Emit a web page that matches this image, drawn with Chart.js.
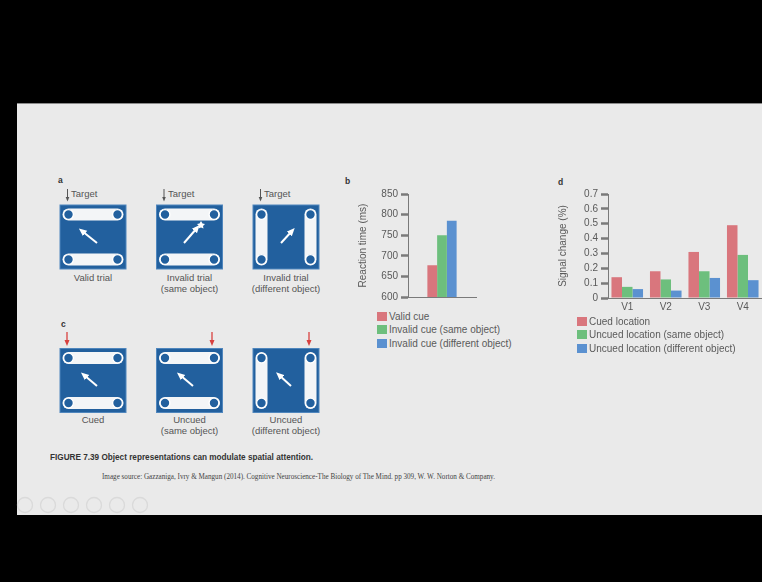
<!DOCTYPE html>
<html>
<head>
<meta charset="utf-8">
<script src="https://cdn.jsdelivr.net/npm/chart.js@4.4.1/dist/chart.umd.min.js"></script>
<style>
  html, body { margin: 0; padding: 0; background: #000; }
  body { width: 762px; height: 582px; position: relative; overflow: hidden; font-family: "Liberation Sans", Arial, sans-serif; }
  #slide { position: absolute; left: 17px; top: 103px; width: 745px; height: 411px; background: #eaeaea; border-top: 1px solid #8a8a8a; }
  .t { position: absolute; white-space: nowrap; color: #555; font-size: 9.5px; line-height: 11px; }
  .c { transform: translateX(-50%); text-align: center; }
  .p { position: absolute; font-weight: bold; font-size: 8.5px; color: #333; }
  .legend { position: absolute; font-size: 10px; color: #5a5a5a; }
  .legend div { height: 13.4px; line-height: 13.4px; white-space: nowrap; }
  .legend span { display: inline-block; width: 10px; height: 9px; margin-right: 2px; vertical-align: -1px; }
  .fit { position: absolute; white-space: nowrap; transform-origin: left center; }
  canvas { position: absolute; }
</style>
</head>
<body>
<div id="slide"></div>

<svg width="762" height="582" style="position:absolute;left:0;top:0">
  <defs>
    <marker id="wh" markerUnits="userSpaceOnUse" markerWidth="8" markerHeight="8" refX="4" refY="4" orient="auto"><path d="M0,0.6 L8,4 L0,7.4 z" fill="#fff"/></marker>
    <marker id="rd" markerUnits="userSpaceOnUse" markerWidth="6" markerHeight="6" refX="3" refY="3" orient="auto"><path d="M0,0.5 L6,3 L0,5.5 z" fill="#d8413f"/></marker>
    <marker id="gy" markerUnits="userSpaceOnUse" markerWidth="5" markerHeight="5" refX="2.5" refY="2.5" orient="auto"><path d="M0,0.5 L5,2.5 L0,4.5 z" fill="#555"/></marker>
    <g id="dot"><circle r="4.9" fill="#22609e" stroke="#fff" stroke-width="1.4"/></g>
    <g id="boxH">
      <rect x="0.5" y="0.5" width="66" height="64" fill="#22609e" stroke="#4f86bd"/>
      <rect x="3" y="4" width="61" height="12" rx="6" fill="#f3f5f7"/>
      <rect x="3" y="49" width="61" height="12" rx="6" fill="#f3f5f7"/>
      <use href="#dot" x="9" y="10"/><use href="#dot" x="58" y="10"/>
      <use href="#dot" x="9" y="55"/><use href="#dot" x="58" y="55"/>
    </g>
    <g id="boxV">
      <rect x="0.5" y="0.5" width="66" height="64" fill="#22609e" stroke="#4f86bd"/>
      <rect x="3" y="4" width="12" height="57" rx="6" fill="#f3f5f7"/>
      <rect x="52" y="4" width="12" height="57" rx="6" fill="#f3f5f7"/>
      <use href="#dot" x="9" y="10"/><use href="#dot" x="58" y="10"/>
      <use href="#dot" x="9" y="55"/><use href="#dot" x="58" y="55"/>
    </g>
  </defs>

  <!-- panel a -->
  <use href="#boxH" x="59.5" y="204.5"/>
  <use href="#boxH" x="156" y="204.5"/>
  <use href="#boxV" x="252.5" y="204.5"/>
  <line x1="97" y1="243" x2="82" y2="231" stroke="#fff" stroke-width="2" marker-end="url(#wh)"/>
  <line x1="184" y1="243" x2="197" y2="228" stroke="#fff" stroke-width="2" marker-end="url(#wh)"/>
  <path d="M201,221 l1.5,2.5 l2.5,0.5 l-2,2 l0.5,2.5 l-2.5,-1 l-2.5,1 l0.5,-2.5 l-2,-2 l2.5,-0.5 z" fill="#fff"/>
  <line x1="281" y1="243" x2="292" y2="231" stroke="#fff" stroke-width="2" marker-end="url(#wh)"/>
  <line x1="67.5" y1="189" x2="67.5" y2="199" stroke="#555" stroke-width="1" marker-end="url(#gy)"/>
  <line x1="164" y1="189" x2="164" y2="199" stroke="#555" stroke-width="1" marker-end="url(#gy)"/>
  <line x1="260.5" y1="189" x2="260.5" y2="199" stroke="#555" stroke-width="1" marker-end="url(#gy)"/>

  <!-- panel c -->
  <use href="#boxH" x="59.5" y="348"/>
  <use href="#boxH" x="156" y="348"/>
  <use href="#boxV" x="252.5" y="348"/>
  <line x1="97" y1="386" x2="84" y2="375" stroke="#fff" stroke-width="2" marker-end="url(#wh)"/>
  <line x1="193" y1="386" x2="180" y2="375" stroke="#fff" stroke-width="2" marker-end="url(#wh)"/>
  <line x1="291" y1="386" x2="279" y2="375" stroke="#fff" stroke-width="2" marker-end="url(#wh)"/>
  <line x1="67" y1="332" x2="67" y2="343" stroke="#d8413f" stroke-width="1.3" marker-end="url(#rd)"/>
  <line x1="212" y1="332" x2="212" y2="343" stroke="#d8413f" stroke-width="1.3" marker-end="url(#rd)"/>
  <line x1="309" y1="332" x2="309" y2="343" stroke="#d8413f" stroke-width="1.3" marker-end="url(#rd)"/>

  <!-- viewer buttons -->
  <g fill="none" stroke="#dadada" stroke-width="1.3">
    <circle cx="25" cy="505" r="7.5"/><circle cx="48" cy="505" r="7.5"/><circle cx="71" cy="505" r="7.5"/>
    <circle cx="94" cy="505" r="7.5"/><circle cx="117" cy="505" r="7.5"/><circle cx="140" cy="505" r="7.5"/>
  </g>
</svg>

<div class="p" style="left:58px;top:175px">a</div>
<div class="p" style="left:61px;top:319px">c</div>
<div class="p" style="left:345px;top:176px">b</div>
<div class="p" style="left:558px;top:177px">d</div>

<div class="t" style="left:71px;top:188px">Target</div>
<div class="t" style="left:168px;top:188px">Target</div>
<div class="t" style="left:264px;top:188px">Target</div>
<div class="t c" style="left:93px;top:272px">Valid trial</div>
<div class="t c" style="left:189.5px;top:272px">Invalid trial<br>(same object)</div>
<div class="t c" style="left:286px;top:272px">Invalid trial<br>(different object)</div>
<div class="t c" style="left:93px;top:414px">Cued</div>
<div class="t c" style="left:189.5px;top:414px">Uncued<br>(same object)</div>
<div class="t c" style="left:286px;top:414px">Uncued<br>(different object)</div>

<div class="fit" data-w="263" style="left:50px;top:451px;font-weight:bold;font-size:9.5px;color:#333">FIGURE 7.39 Object representations can modulate spatial attention.</div>
<div class="fit" data-w="393" style="left:102px;top:472px;font-family:'Liberation Serif',serif;font-size:8px;color:#444">Image source: Gazzaniga, Ivry &amp; Mangun (2014). Cognitive Neuroscience-The Biology of The Mind. pp 309, W. W. Norton &amp; Company.</div>

<canvas id="rt" width="122" height="126" style="left:355px;top:180px"></canvas>
<canvas id="sig" width="207" height="136" style="left:555px;top:180px"></canvas>
<div class="legend" id="rtLegend" style="left:377px;top:310px"></div>
<div class="legend" id="sigLegend" style="left:577px;top:315px"></div>

<script>
// panel b
const cueLabels = ['Valid cue', 'Invalid cue (same object)', 'Invalid cue (different object)'];
const reactionTimes = [677, 750, 785];
const rtTicks = [600, 650, 700, 750, 800, 850];

// panel d
const areas = ['V1', 'V2', 'V3', 'V4'];
const locLabels = ['Cued location', 'Uncued location (same object)', 'Uncued location (different object)'];
const cuedLoc = [0.14, 0.18, 0.31, 0.49];
const uncuedSame = [0.075, 0.125, 0.18, 0.29];
const uncuedDiff = [0.06, 0.05, 0.135, 0.12];
const signalTicks = [0, 0.1, 0.2, 0.3, 0.4, 0.5, 0.6, 0.7];

const barColors = ['#d9767d', '#6dbf7d', '#5b91d0'];
const axisGrey = '#7a7a7a';
const textGrey = '#5a5a5a';

function yAxis(tickList, title, fmt) {
  return {
    min: tickList[0],
    max: tickList[tickList.length - 1],
    afterFit: s => { s.width = 53; },
    afterBuildTicks: s => { s.ticks = tickList.map(v => ({ value: v })); },
    border: { display: true, color: axisGrey, width: 1 },
    grid: { drawOnChartArea: false, drawTicks: true, tickLength: 7, tickWidth: 2.5, tickColor: axisGrey },
    ticks: { autoSkip: false, padding: 3, color: textGrey, font: { size: 10 }, callback: fmt },
    title: { display: true, text: title, color: textGrey, font: { size: 10 }, padding: { top: 2, bottom: 0 } }
  };
}

function htmlLegend(chart, el) {
  el.innerHTML = chart.data.datasets.map(d =>
    '<div><span style="background:' + d.backgroundColor + '"></span>' + d.label + '</div>').join('');
}

const common = {
  responsive: false,
  animation: false,
  devicePixelRatio: 1,
  plugins: { legend: { display: false }, tooltip: { enabled: false } }
};

const rtChart = new Chart(document.getElementById('rt'), {
  type: 'bar',
  data: {
    labels: [''],
    datasets: cueLabels.map((lab, i) => ({
      label: lab,
      data: [reactionTimes[i]],
      backgroundColor: barColors[i],
      barPercentage: 1,
      categoryPercentage: 0.43
    }))
  },
  options: Object.assign({}, common, {
    layout: { padding: { top: 14, bottom: 8, left: 0, right: 1 } },
    scales: {
      x: {
        afterFit: s => { s.height = 0; },
        border: { display: true, color: axisGrey, width: 1 },
        grid: { display: false, drawTicks: false },
        ticks: { display: false }
      },
      y: yAxis(rtTicks, 'Reaction time (ms)', v => String(v))
    }
  })
});
htmlLegend(rtChart, document.getElementById('rtLegend'));

const sigChart = new Chart(document.getElementById('sig'), {
  type: 'bar',
  data: {
    labels: areas,
    datasets: [cuedLoc, uncuedSame, uncuedDiff].map((vals, i) => ({
      label: locLabels[i],
      data: vals,
      backgroundColor: barColors[i],
      barPercentage: 1,
      categoryPercentage: 0.82
    }))
  },
  options: Object.assign({}, common, {
    layout: { padding: { top: 14, bottom: 0, left: 0, right: 0 } },
    scales: {
      x: {
        afterFit: s => { s.height = 18; },
        border: { display: true, color: axisGrey, width: 1 },
        grid: { display: false, drawTicks: false },
        ticks: { padding: 3, color: textGrey, font: { size: 10 } }
      },
      y: yAxis(signalTicks, 'Signal change (%)', v => v === 0 ? '0' : v.toFixed(1))
    }
  })
});
htmlLegend(sigChart, document.getElementById('sigLegend'));

// squeeze caption lines to the width they take on the slide
document.querySelectorAll('.fit').forEach(el => {
  const w = el.getBoundingClientRect().width;
  el.style.transform = 'scaleX(' + (Number(el.dataset.w) / w) + ')';
});
</script>
</body>
</html>
